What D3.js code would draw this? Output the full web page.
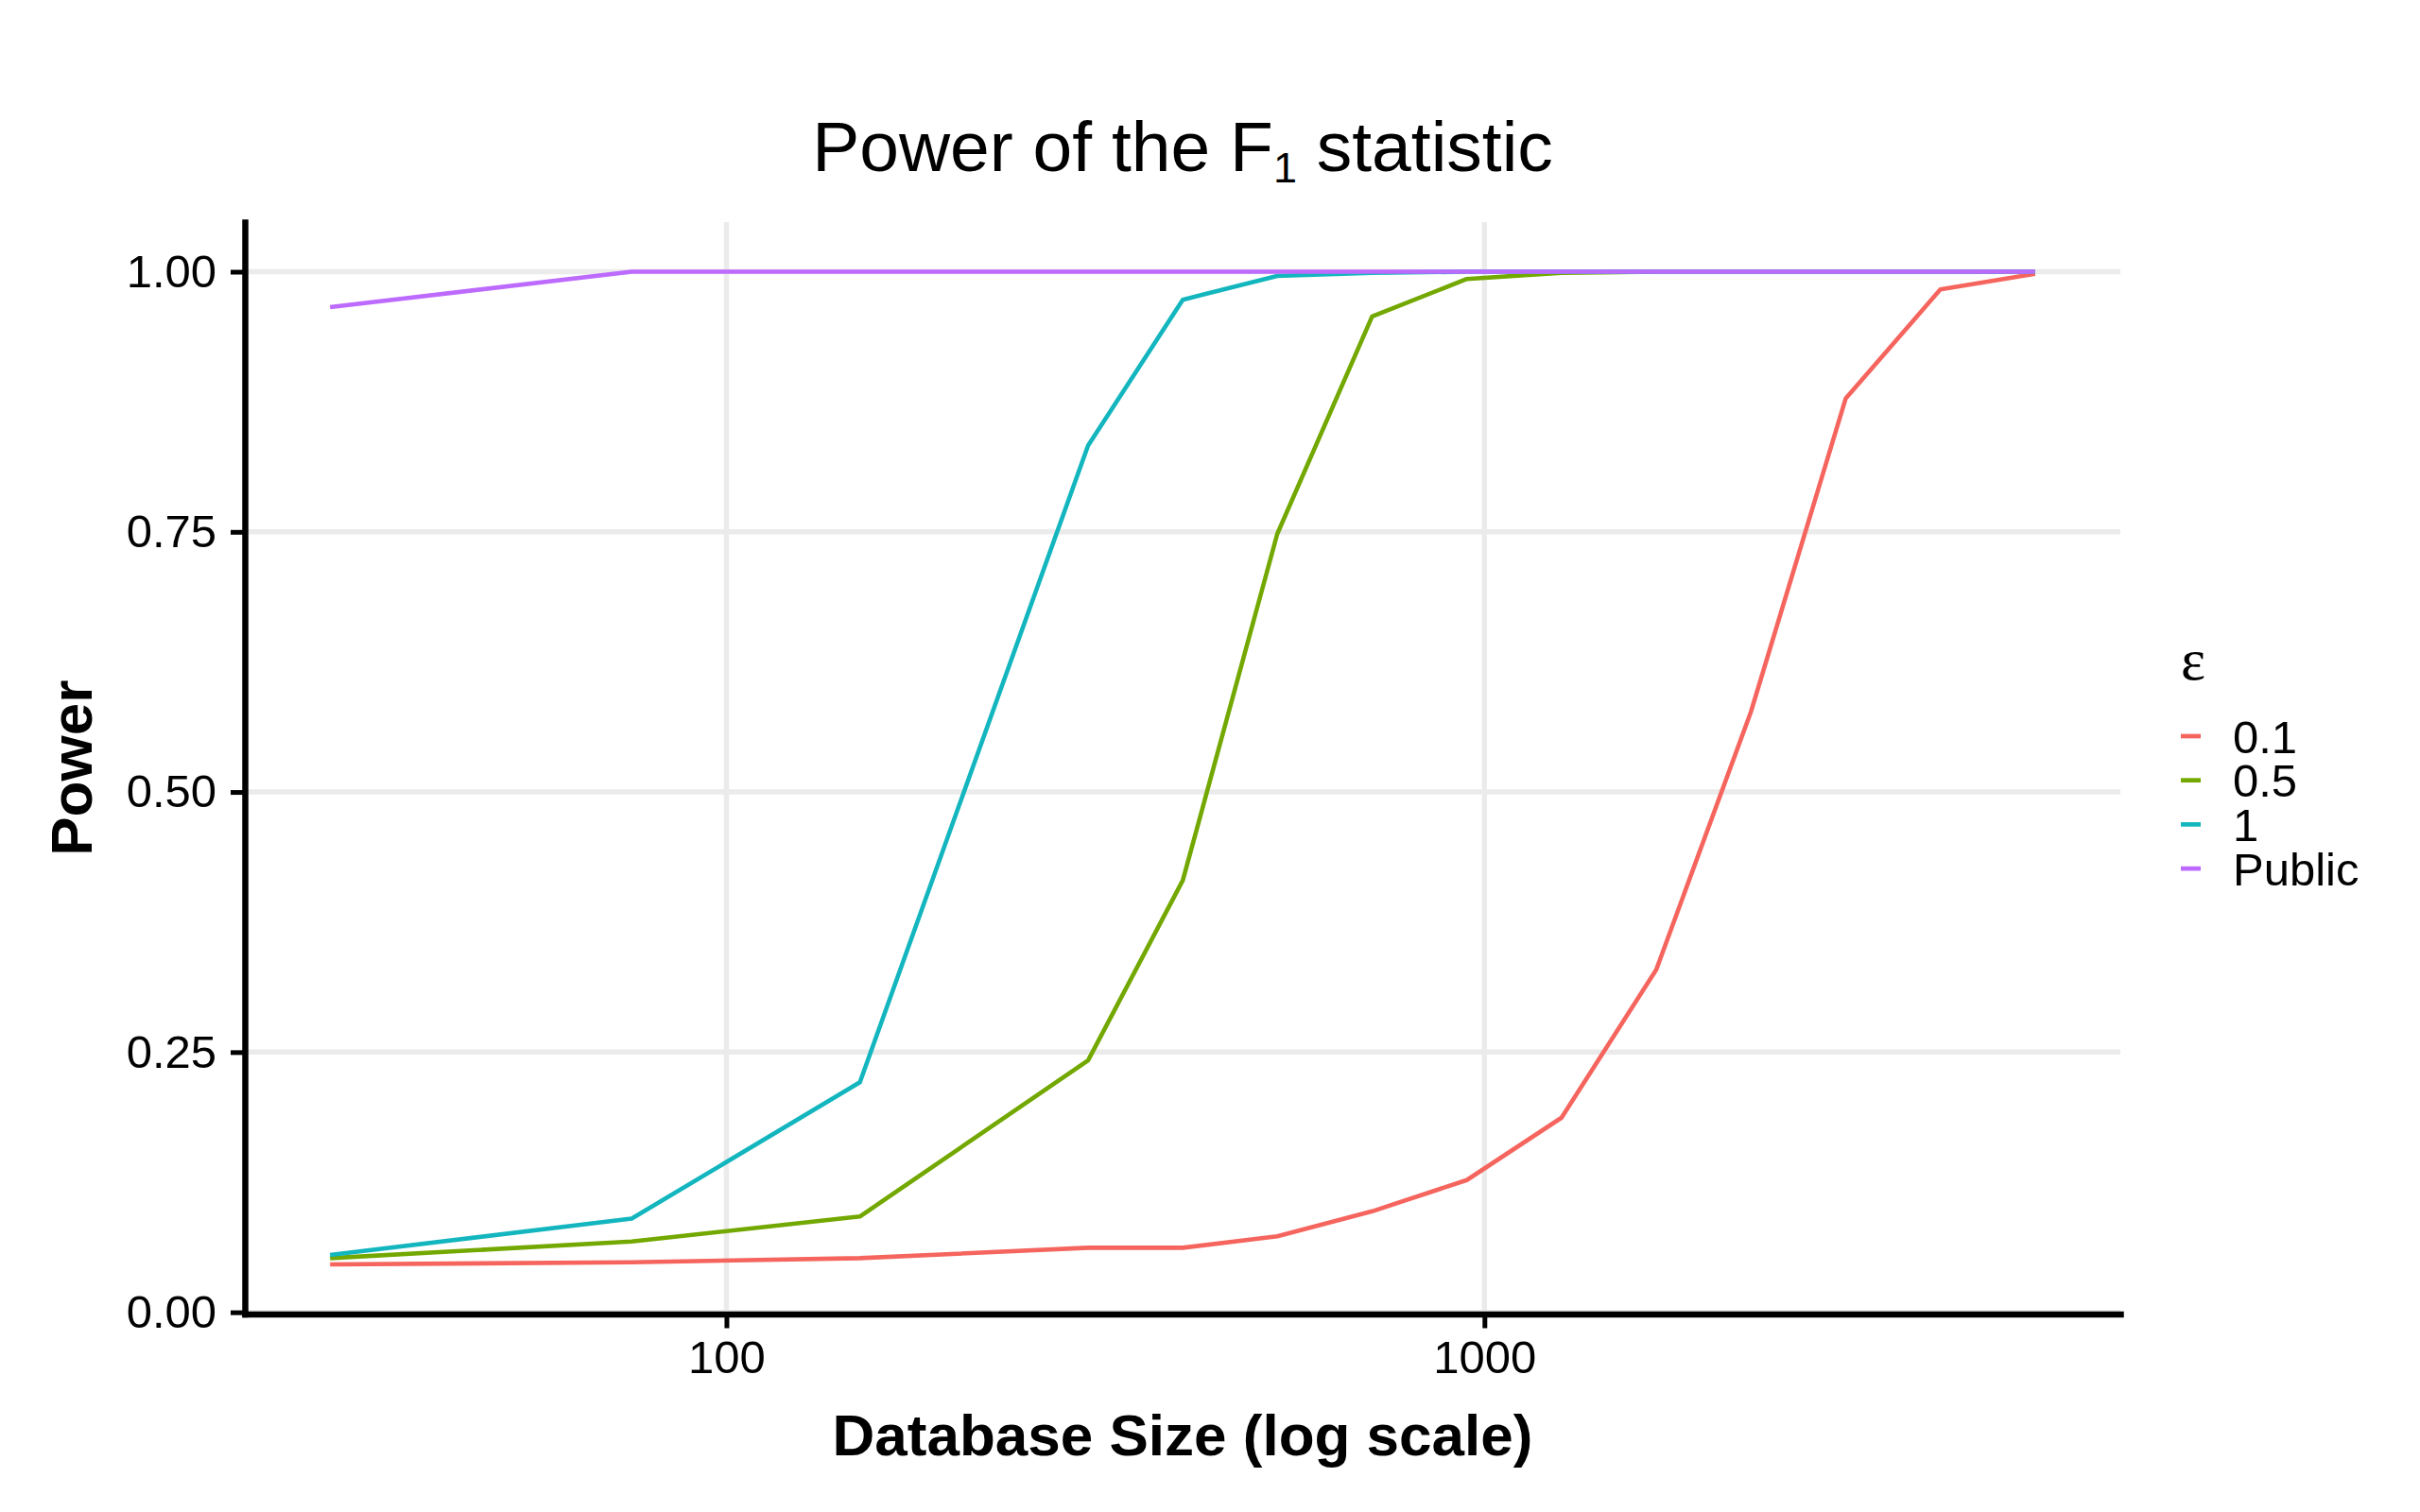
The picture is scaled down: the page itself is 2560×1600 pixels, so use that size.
<!DOCTYPE html>
<html>
<head>
<meta charset="utf-8">
<script src="https://cdn.jsdelivr.net/npm/d3@7"></script>
<style>
  body { margin: 0; background: #fff; }
  text { font-family: "Liberation Sans", Arial, Helvetica, sans-serif; }
</style>
</head>
<body>
<div id="chart"></div>
<script>
// database sizes (x) and power for each epsilon
var sizes = [30, 75, 150, 300, 400, 533, 711, 948, 1264, 1685, 2247, 2996, 3995, 5327];
var power01 = [0.046, 0.048, 0.052, 0.062, 0.062, 0.073, 0.097, 0.127, 0.187, 0.329, 0.577, 0.878, 0.983, 0.998];
var power05 = [0.052, 0.068, 0.092, 0.242, 0.415, 0.748, 0.957, 0.993, 0.999, 1, 1, 1, 1, 1];
var power1 = [0.055, 0.090, 0.221, 0.833, 0.973, 0.996, 0.999, 1, 1, 1, 1, 1, 1, 1];
var powerPublic = [0.966, 1, 1, 1, 1, 1, 1, 1, 1, 1, 1, 1, 1, 1];

var seriesNames = ["0.1", "0.5", "1", "Public"];
var seriesValues = [power01, power05, power1, powerPublic];
var seriesColors = ["#F5655E", "#72A800", "#13B6BE", "#BD6AFF"];

var xTicks = [100, 1000];
var yTicks = [0, 0.25, 0.5, 0.75, 1];

var width = 2560, height = 1600;
var panel = { left: 259, right: 2243, top: 235, bottom: 1390.5 };

var svg = d3.select("#chart").append("svg")
    .attr("width", width)
    .attr("height", height)
    .style("display", "block");

// ggplot style 5% expansion
var lx = d3.extent(sizes, function(d) { return Math.log10(d); });
var px = (lx[1] - lx[0]) * 0.05;
var x = d3.scaleLog()
    .domain([Math.pow(10, lx[0] - px), Math.pow(10, lx[1] + px)])
    .range([panel.left, panel.right]);

var allY = d3.merge(seriesValues);
var ey = d3.extent(allY);
var py = (ey[1] - ey[0]) * 0.05;
var y = d3.scaleLinear()
    .domain([ey[0] - py, ey[1] + py])
    .range([panel.bottom, panel.top]);

// grid
var grid = svg.append("g");
grid.selectAll(".gy").data(yTicks).enter().append("line")
    .attr("x1", panel.left).attr("x2", panel.right)
    .attr("y1", function(d) { return y(d); })
    .attr("y2", function(d) { return y(d); })
    .style("stroke", "#EBEBEB").style("stroke-width", 5.5);
grid.selectAll(".gx").data(xTicks).enter().append("line")
    .attr("y1", panel.top).attr("y2", panel.bottom)
    .attr("x1", function(d) { return x(d); })
    .attr("x2", function(d) { return x(d); })
    .style("stroke", "#EBEBEB").style("stroke-width", 5.5);

// lines
var line = d3.line()
    .x(function(d) { return x(d[0]); })
    .y(function(d) { return y(d[1]); });

svg.append("g").selectAll("path")
    .data(seriesValues)
    .enter().append("path")
    .attr("d", function(vals) { return line(d3.zip(sizes, vals)); })
    .style("fill", "none")
    .style("stroke", function(d, i) { return seriesColors[i]; })
    .style("stroke-width", 4.6)
    .style("stroke-linejoin", "round");

// axes
var xAxis = svg.append("g")
    .attr("transform", "translate(0," + panel.bottom + ")")
    .call(d3.axisBottom(x).tickValues(xTicks).tickFormat(d3.format("d")).tickSize(15).tickSizeOuter(0).tickPadding(13));

var yAxis = svg.append("g")
    .attr("transform", "translate(" + panel.left + ",0)")
    .call(d3.axisLeft(y).tickValues(yTicks).tickFormat(d3.format(".2f")).tickSize(15).tickSizeOuter(0).tickPadding(15));

[xAxis, yAxis].forEach(function(a) {
  a.select(".domain").style("stroke", "#000").style("stroke-width", 6.5).style("stroke-linecap", "square");
  a.selectAll(".tick line").style("stroke", "#000").style("stroke-width", 5);
  a.selectAll(".tick text")
      .style("font-family", "'Liberation Sans', Arial, sans-serif")
      .style("font-size", "49px")
      .style("fill", "#000");
});

// title
var title = svg.append("text")
    .attr("x", (panel.left + panel.right) / 2)
    .attr("y", 181)
    .attr("text-anchor", "middle")
    .style("font-size", "75px")
    .style("fill", "#000");
title.append("tspan").text("Power of the F");
title.append("tspan").attr("dy", 12).style("font-size", "45px").text("1");
title.append("tspan").attr("dy", -12).text(" statistic");

// axis titles
svg.append("text")
    .attr("x", (panel.left + panel.right) / 2)
    .attr("y", 1540)
    .attr("text-anchor", "middle")
    .style("font-size", "62px")
    .style("font-weight", "bold")
    .text("Database Size (log scale)");

svg.append("text")
    .attr("transform", "translate(97," + ((panel.top + panel.bottom) / 2) + ") rotate(-90)")
    .attr("text-anchor", "middle")
    .style("font-size", "62px")
    .style("font-weight", "bold")
    .text("Power");

// legend
var legend = svg.append("g").attr("transform", "translate(2307,0)");

legend.append("text")
    .attr("x", 0)
    .attr("y", 719)
    .style("font-family", "'Liberation Serif', 'DejaVu Serif', serif")
    .style("font-size", "62px")
    .text("\u03B5");

var item = legend.selectAll(".item")
    .data(seriesNames)
    .enter().append("g")
    .attr("transform", function(d, i) { return "translate(0," + (779 + i * 46.7) + ")"; });

item.append("line")
    .attr("x1", 0).attr("x2", 21)
    .style("stroke", function(d, i) { return seriesColors[i]; })
    .style("stroke-width", 4.7);

item.append("text")
    .attr("x", 55)
    .attr("y", 17.5)
    .style("font-size", "49px")
    .text(function(d) { return d; });
</script>
</body>
</html>
